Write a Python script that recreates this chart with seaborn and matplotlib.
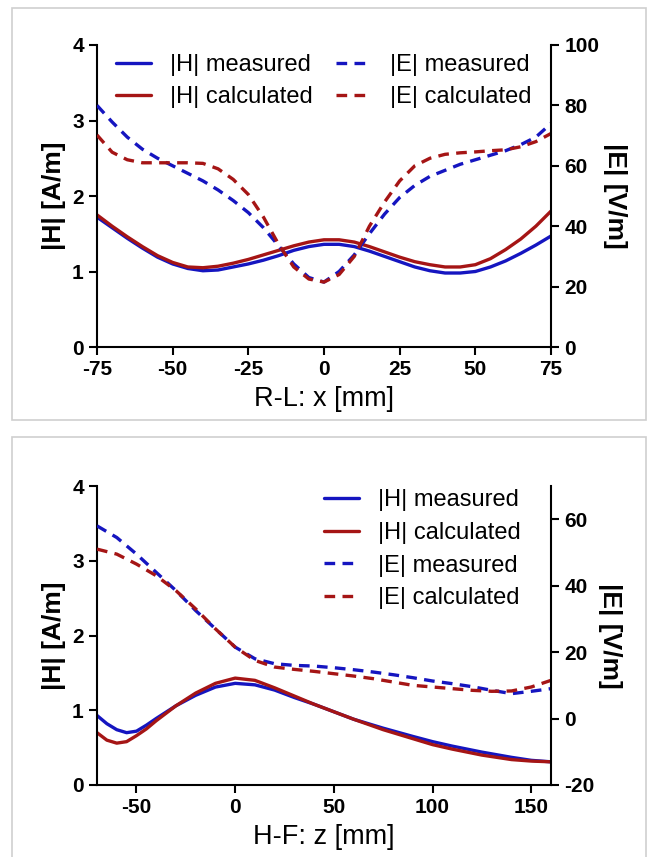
import numpy as np
import pandas as pd
import seaborn as sns
import matplotlib.pyplot as plt
from matplotlib.patches import Rectangle

# ---- data: top panel, R-L scan ----
x_rl = [-75, -70, -65, -60, -55, -50, -45, -40, -35, -30, -25, -20, -15, -10, -5, 0,
        5, 10, 15, 20, 25, 30, 35, 40, 45, 50, 55, 60, 65, 70, 75]
h_meas_rl = [1.72, 1.58, 1.44, 1.31, 1.19, 1.10, 1.04, 1.01, 1.02, 1.06, 1.10, 1.15, 1.21, 1.28, 1.33, 1.36,
             1.36, 1.33, 1.27, 1.20, 1.13, 1.06, 1.01, 0.98, 0.98, 1.00, 1.06, 1.14, 1.24, 1.35, 1.47]
h_calc_rl = [1.75, 1.60, 1.46, 1.33, 1.21, 1.12, 1.06, 1.05, 1.07, 1.11, 1.16, 1.22, 1.28, 1.34, 1.39, 1.42,
             1.42, 1.39, 1.33, 1.26, 1.19, 1.13, 1.09, 1.06, 1.06, 1.09, 1.17, 1.29, 1.43, 1.60, 1.80]
e_meas_rl = [80, 74.5, 69.5, 65.5, 62.5, 60, 57.5, 55, 52, 48.5, 44.5, 39.5, 33.5, 27.5, 23, 21.5,
             25, 30.5, 37.5, 44, 49.5, 53.5, 56.5, 58.5, 60.5, 62, 63.5, 65, 67, 69.5, 74]
e_calc_rl = [70.2, 64.5, 62, 61, 61, 61, 61, 60.8, 59, 55.5, 50.5, 43, 34, 26.5, 22.5, 21.5,
             24, 30, 40, 48, 55, 60, 62.5, 63.8, 64.3, 64.6, 65, 65.3, 66.3, 68, 70.7]

# ---- data: bottom panel, H-F scan ----
z_hf = [-70, -65, -60, -55, -50, -45, -40, -30, -20, -10, 0, 10, 20, 30, 40, 50,
        60, 75, 90, 100, 110, 125, 140, 150, 160]
h_meas_hf = [0.93, 0.82, 0.74, 0.70, 0.72, 0.80, 0.89, 1.06, 1.20, 1.31, 1.36, 1.34, 1.27, 1.17, 1.08, 0.98,
             0.88, 0.76, 0.65, 0.58, 0.52, 0.44, 0.37, 0.33, 0.31]
h_calc_hf = [0.70, 0.60, 0.56, 0.58, 0.66, 0.75, 0.86, 1.06, 1.23, 1.36, 1.43, 1.40, 1.30, 1.19, 1.08, 0.98,
             0.88, 0.74, 0.62, 0.54, 0.48, 0.40, 0.34, 0.32, 0.31]
z_hf_e = [-70, -60, -50, -40, -30, -20, -10, 0, 10, 20, 30, 40, 50, 60, 70, 80,
          90, 100, 110, 120, 130, 140, 150, 160]
e_meas_hf = [58, 54.5, 49.5, 44, 38.5, 32.5, 27, 21.5, 18, 16.5, 16, 15.8, 15.3, 14.7, 14, 13.2,
             12.3, 11.3, 10.5, 9.6, 8.5, 7.5, 8.2, 9]
e_calc_hf = [51, 49.5, 46.5, 43, 38.5, 33, 27, 21.5, 17.5, 15.5, 14.8, 14.2, 13.5, 12.8, 12, 11,
             10, 9.5, 9, 8.5, 8.2, 8.3, 9.5, 11.5]

blue = "#1515C0"
red = "#A51515"

sns.set_style("ticks")
plt.rcParams['font.family'] = ['Liberation Sans', 'DejaVu Sans']
plt.rcParams['axes.unicode_minus'] = False
plt.rcParams['text.color'] = 'black'
plt.rcParams['axes.labelcolor'] = 'black'
plt.rcParams['xtick.color'] = 'black'
plt.rcParams['ytick.color'] = 'black'

fig = plt.figure(figsize=(6.56, 8.57), dpi=100)

# light grey frames round the two panels
fig.patches.append(Rectangle((12 / 656, 1 - 420 / 857), 634 / 656, 412 / 857,
                             transform=fig.transFigure, fill=False, ec="#cfcfcf", lw=1.2))
fig.patches.append(Rectangle((12 / 656, -0.01), 634 / 656, 1 - 437 / 857 + 0.01,
                             transform=fig.transFigure, fill=False, ec="#cfcfcf", lw=1.2))


def style_axes(ax, ax2):
    for a in (ax, ax2):
        a.spines['top'].set_visible(False)
        for s in ('left', 'right', 'bottom'):
            a.spines[s].set_linewidth(1.5)
            a.spines[s].set_color('black')
        a.tick_params(width=1.5, length=6, labelsize=15, direction='out', colors='black')
        for lab in a.get_xticklabels() + a.get_yticklabels():
            lab.set_fontweight('bold')
    ax2.spines['left'].set_visible(False)
    ax2.spines['bottom'].set_visible(False)
    ax.spines['right'].set_visible(False)
    ax.set_ylabel("|H| [A/m]", fontsize=19, fontweight='bold', labelpad=4)
    ax2.set_ylabel("|E| [V/m]", fontsize=19, fontweight='bold', rotation=270, labelpad=20)


def draw(ax, ax2, xh, hm, hc, xe, em, ec):
    lw = 2.4
    sns.lineplot(x=xh, y=hm, ax=ax, color=blue, lw=lw, label="|H| measured", legend=False)
    sns.lineplot(x=xh, y=hc, ax=ax, color=red, lw=lw, label="|H| calculated", legend=False)
    sns.lineplot(x=xe, y=em, ax=ax2, color=blue, lw=lw, dashes=False, linestyle=(0, (3.2, 2.2)),
                 label="|E| measured", legend=False)
    sns.lineplot(x=xe, y=ec, ax=ax2, color=red, lw=lw, dashes=False, linestyle=(0, (3.2, 2.2)),
                 label="|E| calculated", legend=False)


# ---- top panel ----
ax1 = fig.add_axes([97 / 656, 1 - 347 / 857, 454 / 656, 302 / 857])
ax1b = ax1.twinx()
draw(ax1, ax1b, x_rl, h_meas_rl, h_calc_rl, x_rl, e_meas_rl, e_calc_rl)
ax1.set_xlim(-75, 75)
ax1.set_ylim(0, 4)
ax1b.set_ylim(0, 100)
ax1.set_xticks([-75, -50, -25, 0, 25, 50, 75])
ax1.set_yticks([0, 1, 2, 3, 4])
ax1b.set_yticks([0, 20, 40, 60, 80, 100])
ax1.set_xlabel("R-L: x [mm]", fontsize=19.5, labelpad=5)
style_axes(ax1, ax1b)
h1, l1 = ax1.get_legend_handles_labels()
h2, l2 = ax1b.get_legend_handles_labels()
ax1b.legend(h1 + h2, l1 + l2, ncol=2, loc='upper left', bbox_to_anchor=(0.02, 1.0),
            frameon=False, fontsize=17, handlelength=1.5, handletextpad=0.8,
            columnspacing=1.0, labelspacing=0.4, borderaxespad=0)

# ---- bottom panel ----
ax2 = fig.add_axes([97 / 656, 1 - 785 / 857, 454 / 656, 299 / 857])
ax2b = ax2.twinx()
draw(ax2, ax2b, z_hf, h_meas_hf, h_calc_hf, z_hf_e, e_meas_hf, e_calc_hf)
ax2.set_xlim(-70, 160)
ax2.set_ylim(0, 4)
ax2b.set_ylim(-20, 70)
ax2.set_xticks([-50, 0, 50, 100, 150])
ax2.set_yticks([0, 1, 2, 3, 4])
ax2b.set_yticks([-20, 0, 20, 40, 60])
ax2.set_xlabel("H-F: z [mm]", fontsize=19.5, labelpad=5)
style_axes(ax2, ax2b)
h1, l1 = ax2.get_legend_handles_labels()
h2, l2 = ax2b.get_legend_handles_labels()
ax2b.legend(h1 + h2, l1 + l2, ncol=1, loc='upper right', bbox_to_anchor=(0.955, 1.02),
            frameon=False, fontsize=17, handlelength=1.5, handletextpad=0.8,
            labelspacing=0.45, borderaxespad=0)

fig.savefig("out.png", dpi=100)
